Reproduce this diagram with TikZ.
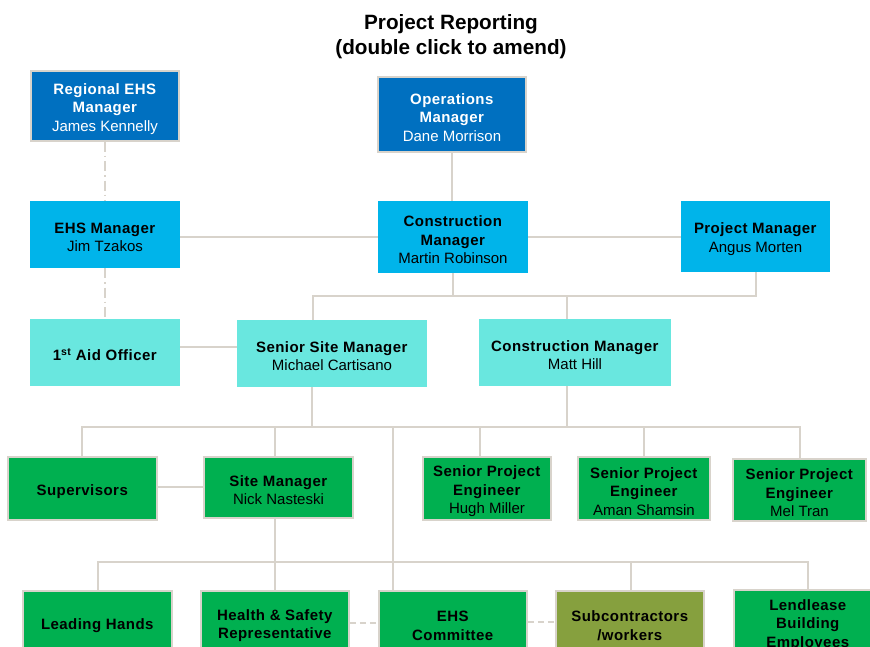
\documentclass[tikz,border=0pt]{standalone}
\usepackage{fontspec}
\setmainfont{Liberation Sans}[BoldFeatures={LetterSpace=3}]
\newfontfamily\titlefont{Liberation Sans}
\newcommand\tp{\rule{0pt}{16.5pt}}
\definecolor{dblue}{HTML}{0070C0}
\definecolor{cyanb}{HTML}{00B4EA}
\definecolor{turq}{HTML}{69E7DF}
\definecolor{grn}{HTML}{00B050}
\definecolor{olivb}{HTML}{86A03E}
\definecolor{lnc}{HTML}{D8D3CB}
\begin{document}
\begin{tikzpicture}[x=1pt,y=-1pt,
  base/.style={rectangle, inner sep=0pt, align=center, text=black,
    font=\fontsize{15}{18.5}\selectfont},
  lvla/.style={base, fill=dblue, draw=lnc, line width=1.5pt, text=white},
  lvlb/.style={base, fill=cyanb},
  lvlc/.style={base, fill=turq},
  lvld/.style={base, fill=grn, draw=lnc, line width=1.5pt},
  lvle/.style={lvld, fill=olivb},
  conn/.style={draw=lnc, line width=1.6pt},
  ddot/.style={conn, dash pattern=on 10pt off 4pt on 1.5pt off 4pt},
  dsh/.style={conn, dash pattern=on 6pt off 4pt}]
\useasboundingbox (0,0) rectangle (870,647);

\node[align=center, font=\titlefont\fontsize{20.7}{25}\selectfont\bfseries] (title) at (451,37)
  {Project Reporting\\(double click to amend)};

% level 1
\node[lvla, minimum width=148, minimum height=70] (reg) at (105,106)
  {\tp\textbf{Regional EHS}\\\textbf{Manager}\\James Kennelly};
\node[lvla, minimum width=148, minimum height=75] (ops) at (452,114.5)
  {\tp\textbf{Operations}\\\textbf{Manager}\\Dane Morrison};
% level 2
\node[lvlb, minimum width=150, minimum height=67] (ehs) at (105,234.5)
  {\tp\textbf{EHS Manager}\\Jim Tzakos};
\node[lvlb, minimum width=150, minimum height=72] (cm) at (453,237)
  {\tp\textbf{Construction}\\\textbf{Manager}\\Martin Robinson};
\node[lvlb, minimum width=149, minimum height=71] (pm) at (755.5,236.5)
  {\tp\textbf{Project Manager}\\Angus Morten};
% level 3
\node[lvlc, minimum width=150, minimum height=67] (aid) at (105,352.5)
  {\tp\textbf{1\textsuperscript{st} Aid Officer}};
\node[lvlc, minimum width=190, minimum height=67] (ssm) at (332,353.5)
  {\tp\textbf{Senior Site Manager}\\Michael Cartisano};
\node[lvlc, minimum width=192, minimum height=67] (cmm) at (575,352.5)
  {\tp\textbf{Construction Manager}\\Matt Hill};
% level 4
\node[lvld, minimum width=149, minimum height=63] (sup) at (82.5,488.5)
  {\tp\textbf{Supervisors}};
\node[lvld, minimum width=149, minimum height=61] (site) at (278.5,487.5)
  {\tp\textbf{Site Manager}\\Nick Nasteski};
\node[lvld, minimum width=128, minimum height=63] (spea) at (487,488.5)
  {\tp\textbf{Senior Project}\\\textbf{Engineer}\\Hugh Miller};
\node[lvld, minimum width=132, minimum height=63] (speb) at (644,488.5)
  {\tp\textbf{Senior Project}\\\textbf{Engineer}\\Aman Shamsin};
\node[lvld, minimum width=133, minimum height=62] (spec) at (799.5,490)
  {\tp\textbf{Senior Project}\\\textbf{Engineer}\\Mel Tran};
% level 5
\node[lvld, minimum width=149, minimum height=64] (lh) at (97.5,623)
  {\tp\textbf{Leading Hands}};
\node[lvld, minimum width=148, minimum height=64] (hs) at (275,623)
  {\tp\textbf{Health \& Safety}\\\textbf{Representative}};
\node[lvld, minimum width=148, minimum height=64] (ehsc) at (453,623)
  {\tp\textbf{EHS}\\\textbf{Committee}};
\node[lvle, minimum width=148, minimum height=64] (sub) at (630,623)
  {\tp\textbf{Subcontractors}\\\textbf{/workers}};
\node[lvld, minimum width=148, minimum height=64] (lend) at (808,622)
  {\tp\textbf{Lendlease}\\\textbf{Building}\\\textbf{Employees}};

% junction coordinates
\coordinate (ja) at (313,296);
\coordinate (jb) at (756,296);
\coordinate (jc) at (567,296);
\coordinate (ka) at (82,427);
\coordinate (kb) at (800,427);
\coordinate (kc) at (312,427);
\coordinate (kd) at (567,427);
\coordinate (ke) at (275,427);
\coordinate (kf) at (393,427);
\coordinate (kg) at (480,427);
\coordinate (kh) at (644,427);
\coordinate (ma) at (98,562);
\coordinate (mb) at (808,562);
\coordinate (mc) at (275,562);
\coordinate (md) at (631,562);

% connectors
\draw[ddot] (reg.south) -- (ehs.north);
\draw[ddot] (ehs.south) -- (aid.north);
\draw[conn] (ops.south) -- (ops.south |- cm.north);
\draw[conn] (cm.west) -- (cm.west -| ehs.east);
\draw[conn] (cm.east) -- (cm.east -| pm.west);
\draw[conn] (cm.south) -- (cm.south |- ja);
\draw[conn] (ja |- ssm.north) -- (ja) -- (jb) -- (jb |- pm.south);
\draw[conn] (jc) -- (jc |- cmm.north);
\draw[conn] (aid.east |- 0,347) -- (ssm.west |- 0,347);
\draw[conn] (ssm.south -| kc) -- (kc);
\draw[conn] (cmm.south -| kd) -- (kd);
\draw[conn] (ka |- sup.north) -- (ka) -- (kb) -- (kb |- spec.north);
\draw[conn] (ke) -- (ke |- site.north);
\draw[conn] (kf) -- (kf |- ehsc.north);
\draw[conn] (kg) -- (kg |- spea.north);
\draw[conn] (kh) -- (kh |- speb.north);
\draw[conn] (sup.east |- 0,487) -- (site.west |- 0,487);
\draw[conn] (site.south -| mc) -- (mc);
\draw[conn] (ma |- lh.north) -- (ma) -- (mb) -- (mb |- lend.north);
\draw[conn] (mc) -- (mc |- hs.north);
\draw[conn] (md) -- (md |- sub.north);
\draw[dsh] (hs.east) -- (ehsc.west);
\draw[dsh] (ehsc.east |- 0,622) -- (sub.west |- 0,622);
\end{tikzpicture}
\end{document}
